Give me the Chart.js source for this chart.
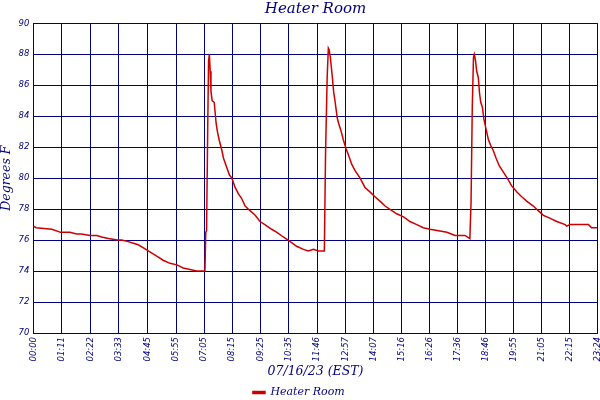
<!DOCTYPE html>
<html>
<head>
<meta charset="utf-8">
<script src="https://cdn.jsdelivr.net/npm/chart.js@4"></script>
<style>
  html, body { margin: 0; padding: 0; background: #fff; overflow: hidden; }
  #wrap { width: 600px; height: 400px; }
</style>
</head>
<body>
<div id="wrap"><canvas id="chart" width="600" height="400"></canvas></div>
<script>
// x tick labels (time of day)
const tickLabels = ['00:00', '01:11', '02:22', '03:33', '04:45', '05:55', '07:05', '08:15', '09:25', '10:35',
  '11:46', '12:57', '14:07', '15:16', '16:26', '17:36', '18:46', '19:55', '21:05', '22:15', '23:24'];

// readings: minutes after midnight and temperature (deg F)
const times = [0, 7, 46, 68, 91, 108, 120, 141, 158, 170, 187, 209, 220, 236, 249, 261, 274, 286, 299, 311,
  323, 340, 357, 373, 390, 406, 419, 427, 429, 431, 434, 436, 438, 440, 442, 445, 450, 455, 458, 463,
  469, 473, 481, 488, 494, 502, 510, 518, 527, 539, 552, 564, 576, 593, 606, 622, 639, 655, 672, 684,
  697, 709, 724, 727, 731, 734, 736, 739, 744, 747, 751, 756, 760, 765, 771, 778, 784, 792, 800, 813,
  825, 838, 850, 863, 875, 892, 904, 921, 937, 954, 970, 987, 1008, 1029, 1049, 1074, 1086, 1089, 1092, 1095,
  1097, 1100, 1103, 1107, 1110, 1113, 1117, 1121, 1126, 1132, 1138, 1144, 1151, 1159, 1169, 1179, 1190, 1203, 1215, 1228,
  1244, 1256, 1269, 1286, 1302, 1323, 1327, 1335, 1352, 1381, 1389, 1404];
const temps = [76.9, 76.8, 76.7, 76.5, 76.5, 76.4, 76.4, 76.3, 76.3, 76.2, 76.1, 76.0, 76.0, 75.9, 75.8, 75.7, 75.5, 75.3, 75.1, 74.9,
  74.7, 74.5, 74.4, 74.2, 74.1, 74.0, 74.0, 74.0, 76.5, 76.6, 83.5, 87.6, 88.0, 86.9, 85.6, 85.0, 84.9, 83.5, 83.0, 82.4,
  81.8, 81.3, 80.7, 80.2, 80.0, 79.4, 79.0, 78.7, 78.2, 77.9, 77.6, 77.2, 77.0, 76.7, 76.5, 76.2, 75.9, 75.6, 75.4, 75.3,
  75.4, 75.3, 75.3, 81.6, 86.5, 88.4, 88.3, 87.8, 86.5, 85.6, 84.9, 83.9, 83.5, 83.1, 82.5, 81.9, 81.5, 80.9, 80.5, 80.0,
  79.4, 79.1, 78.8, 78.5, 78.2, 77.9, 77.7, 77.5, 77.2, 77.0, 76.8, 76.7, 76.6, 76.5, 76.3, 76.3, 76.1, 78.5, 84.6, 87.8,
  88.0, 87.6, 86.9, 86.5, 85.5, 84.9, 84.6, 83.8, 83.2, 82.5, 82.1, 81.8, 81.3, 80.8, 80.4, 80.0, 79.5, 79.1, 78.8, 78.5,
  78.2, 77.9, 77.6, 77.4, 77.2, 77.0, 76.9, 77.0, 77.0, 77.0, 76.8, 76.8];

const navy = '#000080';

function toMinutes(s) {
  const p = s.split(':');
  return parseInt(p[0]) * 60 + parseInt(p[1]);
}
const tickMinutes = tickLabels.map(toMinutes);

const points = times.map((t, i) => ({ x: t, y: temps[i] }));

new Chart(document.getElementById('chart'), {
  type: 'line',
  data: {
    datasets: [{
      label: 'Heater Room',
      data: points,
      borderColor: '#cc0000',
      backgroundColor: '#cc0000',
      borderWidth: 1.5,
      pointRadius: 0,
      tension: 0,
      fill: false
    }]
  },
  options: {
    responsive: false,
    animation: false,
    layout: { padding: { left: 0, right: 2.3, top: 0, bottom: -8 } },
    scales: {
      x: {
        type: 'linear',
        min: 0,
        max: 1404,
        afterBuildTicks: axis => {
          axis.ticks = tickMinutes.map(v => ({ value: v }));
        },
        afterFit: axis => {
          axis.height = 50;
          axis.paddingLeft = 0;
          axis.paddingRight = 0;
        },
        grid: { color: navy, lineWidth: 1, drawTicks: false },
        border: { color: navy, width: 1 },
        ticks: {
          autoSkip: false,
          maxRotation: 90,
          minRotation: 90,
          padding: 4,
          color: navy,
          font: { family: 'DejaVu Sans', style: 'italic', size: 8.5 },
          callback: v => {
            const i = tickMinutes.indexOf(v);
            return i >= 0 ? tickLabels[i] : '';
          }
        },
        title: {
          display: true,
          text: '07/16/23 (EST)',
          color: navy,
          padding: { top: 0, bottom: 4 },
          font: { family: 'DejaVu Serif', style: 'italic', size: 12.5 }
        }
      },
      y: {
        min: 70,
        max: 90,
        afterFit: axis => {
          axis.width = 33.3;
          axis.paddingTop = 0;
          axis.paddingBottom = 0;
        },
        grid: { color: navy, lineWidth: 1, drawTicks: false },
        border: { color: navy, width: 1 },
        ticks: {
          stepSize: 2,
          padding: 4,
          color: navy,
          font: { family: 'DejaVu Sans', style: 'italic', size: 8.5 }
        },
        title: {
          display: true,
          text: 'Degrees F',
          color: navy,
          padding: { top: -1, bottom: 0 },
          font: { family: 'DejaVu Serif', style: 'italic', size: 12.5 }
        }
      }
    },
    plugins: {
      title: {
        display: true,
        fullSize: false,
        text: 'Heater Room',
        color: navy,
        padding: { top: 0.5, bottom: 4.8 },
        font: { family: 'DejaVu Serif', style: 'italic', size: 15, weight: 'normal' }
      },
      legend: {
        position: 'bottom',
        labels: {
          color: navy,
          boxWidth: 12,
          boxHeight: 2,
          padding: 4,
          font: { family: 'DejaVu Serif', style: 'italic', size: 11 }
        }
      },
      tooltip: { enabled: false }
    }
  }
});
</script>
</body>
</html>
